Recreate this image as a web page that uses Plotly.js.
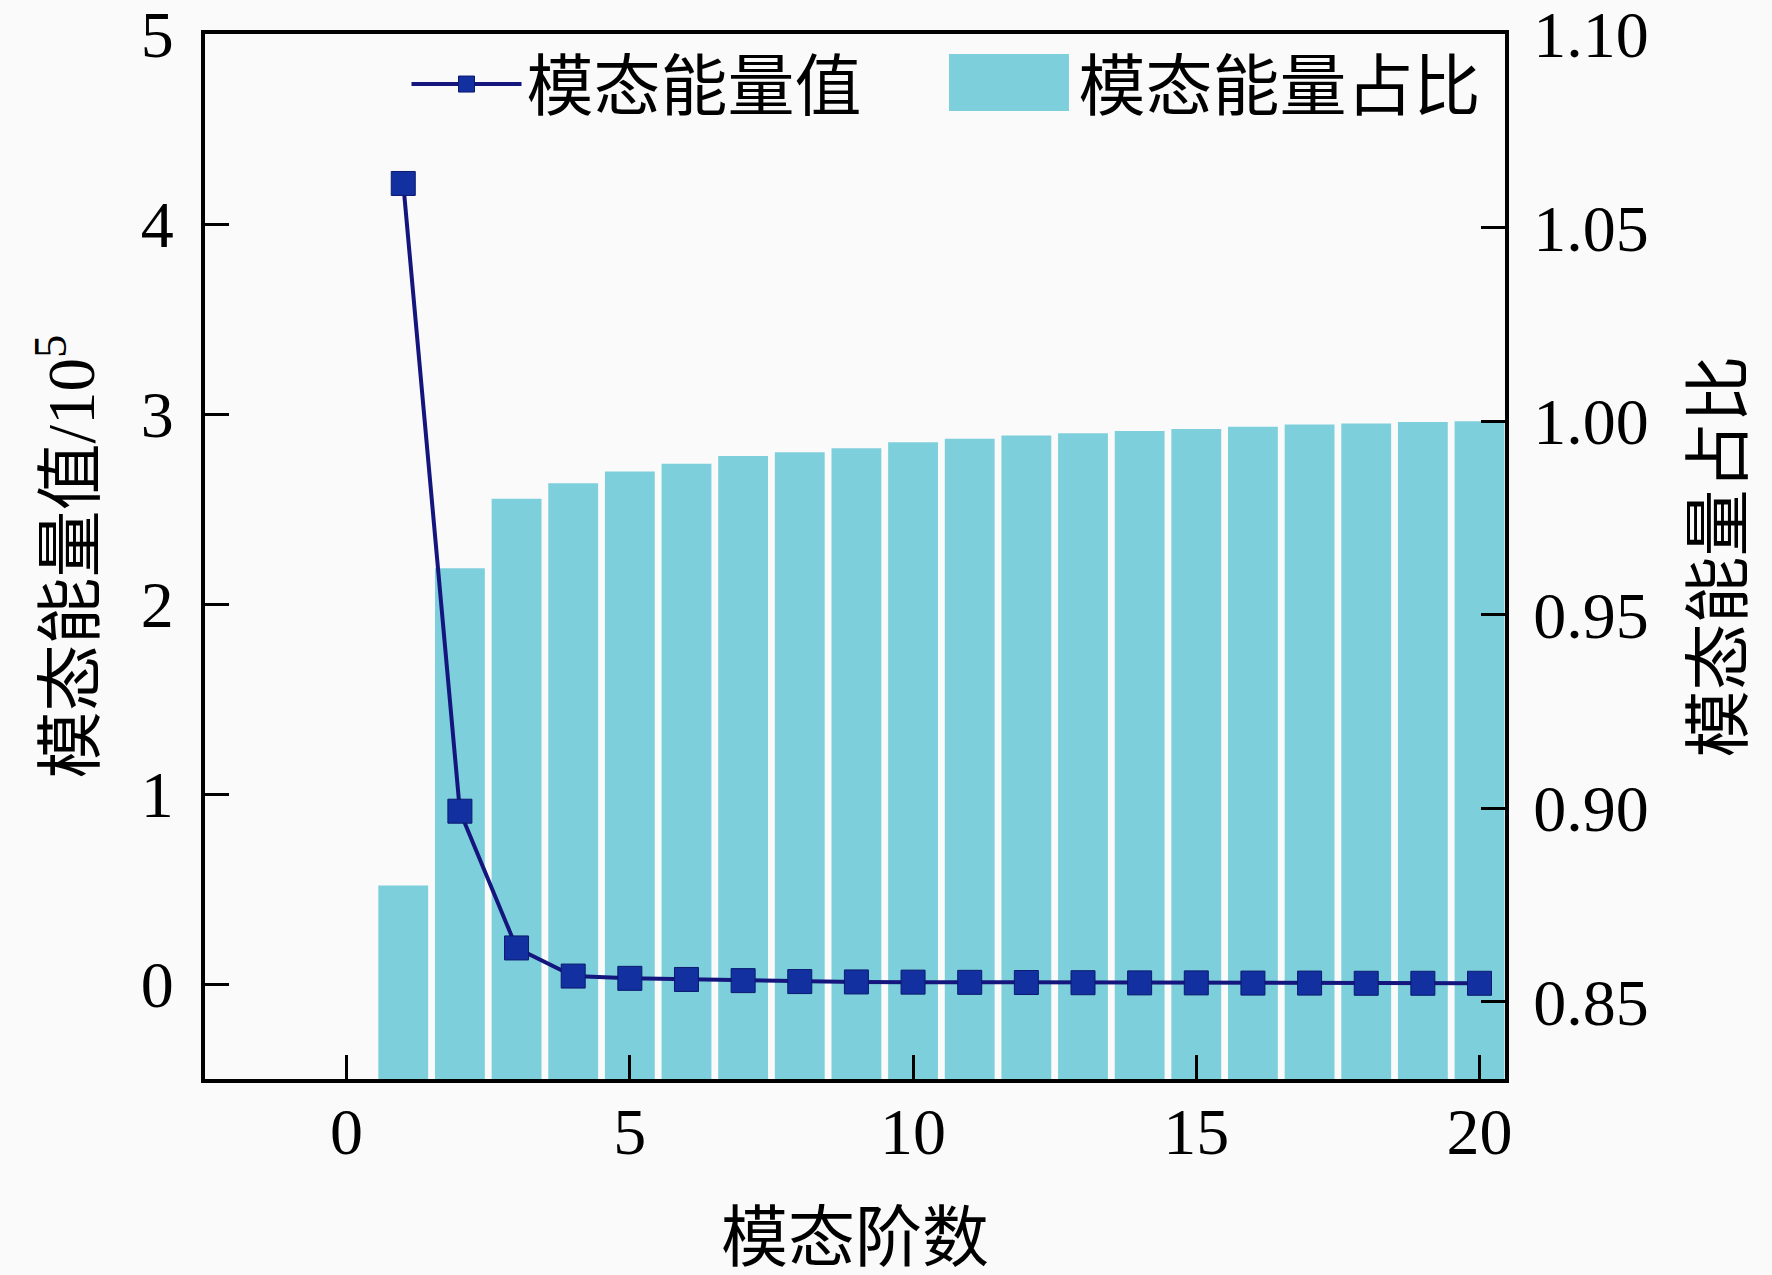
<!DOCTYPE html>
<html>
<head>
<meta charset="utf-8">
<script src="https://cdn.plot.ly/plotly-3.0.1.min.js"></script>
<style>
  html, body { margin: 0; padding: 0; background: #fafafa; }
  #chart { width: 1772px; height: 1275px; }
</style>
</head>
<body>
<div id="chart"></div>
<script>
// mode order (x), energy per mode (x10^5), cumulative energy ratio
const modeOrder = [1, 2, 3, 4, 5, 6, 7, 8, 9, 10, 11, 12, 13, 14, 15, 16, 17, 18, 19, 20];
const modeEnergy = [4.215, 0.91, 0.19, 0.042, 0.030, 0.024, 0.018, 0.013, 0.011, 0.010,
                    0.009, 0.008, 0.007, 0.006, 0.006, 0.005, 0.005, 0.004, 0.004, 0.004];
const energyRatio = [0.880, 0.962, 0.980, 0.984, 0.987, 0.989, 0.991, 0.992, 0.993, 0.9946,
                     0.9955, 0.9963, 0.9969, 0.9975, 0.998, 0.9986, 0.9992, 0.9994, 0.9998, 1.000];
const xTicks = [0, 5, 10, 15, 20];
const leftTicks = [0, 1, 2, 3, 4, 5];
const rightTicks = [0.85, 0.90, 0.95, 1.00, 1.05, 1.10];
const rightTickText = ['0.85', '0.90', '0.95', '1.00', '1.05', '1.10'];

const FONT = '"Liberation Serif", "Times New Roman", "Noto Sans CJK SC", serif';
const BAR_COLOR = '#7ecfdc';

// common axis look: black frame, inward ticks
const axisBase = {
  showgrid: false, zeroline: false, showline: true, linecolor: '#000', linewidth: 4,
  ticks: 'inside', ticklen: 24, tickwidth: 3, tickcolor: '#000',
  ticklabeloverflow: 'allow',
  tickfont: { family: FONT, size: 66, color: '#000' }
};
const titleFont = { family: FONT, size: 67, color: '#000' };

// bars go on the main y axis so they sit below the line (overlay drawn on top)
const traces = [
  {
    x: modeOrder, y: energyRatio, name: '模态能量占比', type: 'bar',
    yaxis: 'y', width: 0.88,
    marker: { color: BAR_COLOR, line: { width: 0 } }
  },
  {
    x: modeOrder, y: modeEnergy, name: '模态能量值', type: 'scatter', mode: 'lines+markers',
    yaxis: 'y2',
    line: { color: '#14167e', width: 4 },
    marker: { symbol: 'square', size: 24, color: '#1230a0', line: { color: '#0b1a6e', width: 1 } }
  }
];

const layout = {
  width: 1772, height: 1275,
  paper_bgcolor: '#fafafa', plot_bgcolor: '#fafafa',
  font: { family: FONT, size: 66, color: '#000' },
  margin: { l: 205, r: 267, t: 34, b: 196 },
  showlegend: true,
  legend: {
    orientation: 'h', x: 0.155, xanchor: 'left', y: 1.0, yanchor: 'top',
    bgcolor: 'rgba(0,0,0,0)', font: { family: FONT, size: 67, color: '#000' },
    traceorder: 'reversed', itemwidth: 110, entrywidth: 427, entrywidthmode: 'pixels'
  },
  // wide key box for the bar legend entry (native bar key is a small fixed square)
  shapes: [
    {
      type: 'rect', xref: 'paper', yref: 'paper', x0: 0.5723, x1: 0.6646, y0: 0.9263, y1: 0.9809,
      fillcolor: BAR_COLOR, line: { width: 0 }, layer: 'above'
    }
  ],
  xaxis: {
    ...axisBase, mirror: true, range: [-2.5, 20.45], tickvals: xTicks,
    ticklabelstandoff: -8,
    title: { text: '模态阶数', font: titleFont, standoff: 63 }
  },
  yaxis: {
    ...axisBase, side: 'right', range: [0.83, 1.1001], tickvals: rightTicks, ticktext: rightTickText,
    ticklabelstandoff: 11,
    title: { text: '模态能量占比', font: titleFont, standoff: 48 }
  },
  yaxis2: {
    ...axisBase, side: 'left', overlaying: 'y', range: [-0.5, 5.002], tickvals: leftTicks,
    ticklabelstandoff: 14,
    title: { text: '模态能量值/10<sup>5</sup>', font: titleFont, standoff: 25 }
  }
};

Plotly.newPlot('chart', traces, layout, { staticPlot: true });
</script>
</body>
</html>
